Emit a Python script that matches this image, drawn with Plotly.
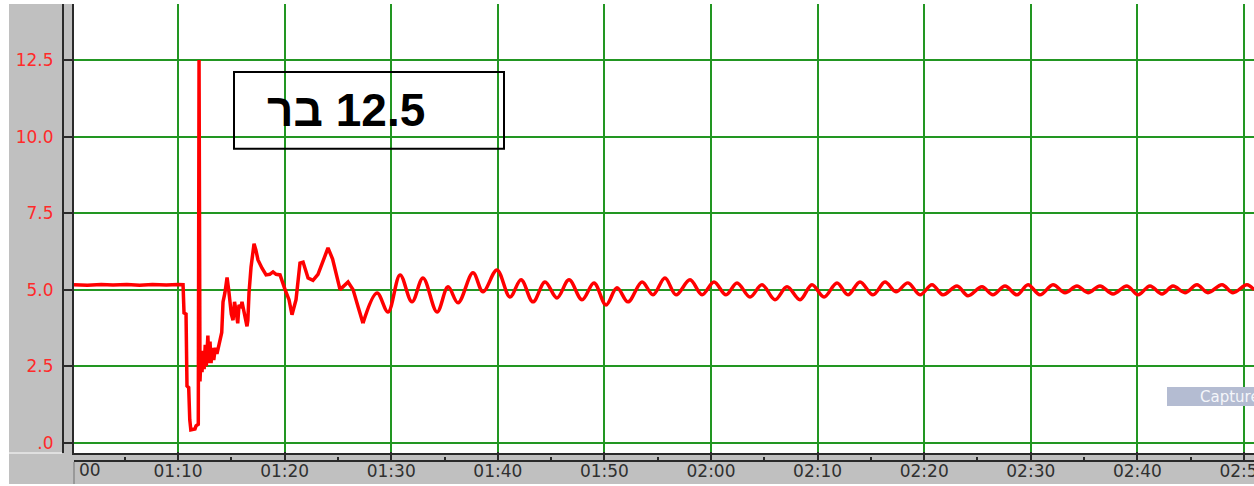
import plotly.graph_objects as go

# Pressure trace (bar) against elapsed time in seconds; axis labels read mm:ss
peak_pressure = 12.5

# Steady state, valve event, pressure spike and the first irregular swings
t_transient = [60.24, 61.5, 62.8, 63.9, 65.2, 66.4, 67.6, 68.9, 70.0, 70.47,
               70.56, 70.75, 70.84, 71.0, 71.1, 71.2, 71.59, 71.69, 71.9, 71.97,
               72.06, 72.16, 72.25, 72.35, 72.45, 72.55, 72.65, 72.8, 72.9, 73.0,
               73.1, 73.2, 73.35, 73.5, 73.65, 73.8, 73.94, 74.1, 74.22, 74.4,
               74.6, 74.75, 74.85, 75.0, 75.16, 75.3, 75.44, 75.6, 75.72, 75.9,
               76.0, 76.2, 76.47, 76.55, 76.66, 76.85, 77.0, 77.13, 77.3, 77.5,
               77.88, 78.26, 78.6, 78.91, 79.2, 79.57, 80.04, 80.41, 80.69, 81.07,
               81.44, 81.73, 82.2, 82.66, 83.13, 83.7, 84.07, 84.5, 85.2, 85.95,
               86.42, 86.89, 87.35]
p_transient = [5.16, 5.14, 5.17, 5.15, 5.17, 5.14, 5.17, 5.15, 5.17, 5.16,
               4.24, 4.2, 1.85, 1.8, 0.75, 0.42, 0.45, 0.55, 0.6, peak_pressure,
               2.0, 2.9, 2.3, 3.0, 2.4, 3.2, 2.5, 3.5, 2.6, 3.3,
               2.6, 3.1, 2.7, 3.1, 2.9, 3.2, 3.35, 3.6, 4.6, 4.9,
               5.4, 5.0, 4.7, 4.2, 4.0, 4.6, 4.3, 3.9, 4.5, 4.4,
               4.6, 4.2, 3.8, 4.0, 4.9, 5.74, 6.2, 6.5, 6.3, 5.97,
               5.7, 5.48, 5.5, 5.58, 5.5, 5.48, 5.0, 4.67, 4.18, 4.67,
               5.87, 5.9, 5.38, 5.3, 5.5, 6.0, 6.36, 6.0, 5.0, 5.25,
               5.0, 4.44, 3.9]

# Decaying oscillation: successive crests and troughs
t_osc = [87.35, 88.67, 89.7, 90.83, 91.95, 92.98, 94.3, 95.33, 96.27, 97.67,
         98.61, 99.92, 101.14, 102.18, 103.3, 104.43, 105.55, 106.68, 107.9, 109.02,
         110.15, 111.18, 112.21, 113.53, 114.56, 115.68, 116.72, 118.03, 119.16, 120.28,
         121.41, 122.44, 123.66, 124.78, 126.0, 127.13, 128.35, 129.47, 130.6, 131.82,
         132.85, 133.98, 135.2, 136.32, 137.35, 138.48, 139.61, 140.73, 141.76, 143.08,
         144.11, 145.42, 146.45, 147.58, 148.71, 149.74, 150.86, 152.08, 153.21, 154.33,
         155.37, 156.49, 157.71, 159.02, 160.06, 161.18, 162.31, 163.34, 164.47, 165.59,
         166.62, 167.94, 168.97, 170.28, 170.94]
p_osc = [3.9, 4.89, 4.27, 5.48, 4.6, 5.38, 4.27, 5.09, 4.57, 5.55,
         4.93, 5.64, 4.76, 5.32, 4.6, 5.25, 4.73, 5.32, 4.67, 5.22,
         4.5, 5.06, 4.6, 5.25, 4.83, 5.38, 4.83, 5.32, 4.83, 5.25,
         4.83, 5.22, 4.76, 5.16, 4.67, 5.09, 4.67, 5.16, 4.76, 5.22,
         4.83, 5.25, 4.83, 5.25, 4.93, 5.22, 4.83, 5.16, 4.83, 5.12,
         4.8, 5.09, 4.83, 5.12, 4.83, 5.16, 4.83, 5.16, 4.9, 5.12,
         4.9, 5.12, 4.86, 5.12, 4.83, 5.12, 4.86, 5.12, 4.9, 5.16,
         4.9, 5.16, 4.9, 5.16, 4.99]

x_tick_vals = [60, 70, 80, 90, 100, 110, 120, 130, 140, 150, 160, 170]
x_tick_labels = ["01:00", "01:10", "01:20", "01:30", "01:40", "01:50",
                 "02:00", "02:10", "02:20", "02:30", "02:40", "02:50"]
y_tick_vals = [0, 2.5, 5, 7.5, 10, 12.5]
y_tick_labels = [".0", "2.5", "5.0", "7.5", "10.0", "12.5"]

x_range = [60.24, 170.94]
y_range = [-0.337, 14.33]

# Figure geometry (pixels)
W, H = 1254, 486
ML, MR, MT, MB = 63, 0, 4, 25
PW, PH = W - ML - MR, H - MT - MB


def px(p):
    return (p - ML) / PW


def py(q):
    return (H - MB - q) / PH


RED = "#ff0000"
GRID = "rgb(34,150,34)"
DARK = "#2a2a2a"
PANEL = "#c0c0c0"

fig = go.Figure()
fig.add_trace(go.Scatter(x=t_transient, y=p_transient, mode="lines",
                         line=dict(color=RED, width=3.5), hoverinfo="skip"))
fig.add_trace(go.Scatter(x=t_osc, y=p_osc, mode="lines",
                         line=dict(color=RED, width=3.5, shape="spline", smoothing=1.0),
                         hoverinfo="skip"))
# carries the outer (labelled) axes
fig.add_trace(go.Scatter(x=[], y=[], xaxis="x2", yaxis="y2", hoverinfo="skip"))

tick_font = dict(family="DejaVu Sans", size=17, color="#303030")

fig.update_layout(
    width=W, height=H, autosize=False, template="none",
    margin=dict(l=ML, r=MR, t=MT, b=MB, pad=0),
    paper_bgcolor=PANEL, plot_bgcolor="white", showlegend=False,
    xaxis=dict(domain=[px(74), 1], range=x_range, tickmode="array", tickvals=x_tick_vals,
               showticklabels=False, ticks="", showgrid=True, gridcolor=GRID, gridwidth=2,
               zeroline=False, showline=True, linecolor=DARK, linewidth=2, anchor="y",
               automargin=False),
    yaxis=dict(domain=[py(453), 1], range=y_range, tickmode="array", tickvals=y_tick_vals,
               showticklabels=False, ticks="", showgrid=True, gridcolor=GRID, gridwidth=2,
               zeroline=False, showline=True, linecolor=DARK, linewidth=2, anchor="x",
               automargin=False),
    xaxis2=dict(overlaying="x", anchor="free", position=0, side="bottom", range=x_range,
                tickmode="array", tickvals=x_tick_vals, ticktext=x_tick_labels,
                ticks="inside", ticklen=8, tickwidth=1.5, tickcolor=DARK,
                minor=dict(ticks="inside", ticklen=3, tickwidth=1.5, tickcolor=DARK,
                           tickmode="linear", tick0=0, dtick=5, showgrid=False),
                showline=True, linecolor=DARK, linewidth=2, showgrid=False, zeroline=False,
                tickfont=tick_font, ticklabeloverflow="allow", ticklabelstandoff=-5,
                automargin=False),
    yaxis2=dict(overlaying="y", anchor="free", position=0, side="left", range=y_range,
                tickmode="array", tickvals=y_tick_vals, ticktext=y_tick_labels,
                ticks="inside", ticklen=9, tickwidth=1.5, tickcolor=DARK,
                showline=True, linecolor=DARK, linewidth=2, showgrid=False, zeroline=False,
                tickfont=dict(family="DejaVu Sans", size=17, color="#ff2a2a"),
                ticklabelstandoff=5, automargin=False),
)

shapes = [
    # white window edges
    dict(type="rect", xref="paper", yref="paper", x0=px(0), x1=px(9), y0=py(H), y1=py(0),
         fillcolor="white", line=dict(width=0), layer="above"),
    dict(type="rect", xref="paper", yref="paper", x0=px(0), x1=px(W), y0=py(MT), y1=py(0),
         fillcolor="white", line=dict(width=0), layer="above"),
    dict(type="rect", xref="paper", yref="paper", x0=px(0), x1=px(W), y0=py(H), y1=py(484),
         fillcolor="white", line=dict(width=0), layer="above"),
    dict(type="line", xref="paper", yref="paper", x0=px(9), x1=px(62), y0=py(453), y1=py(453),
         line=dict(color="white", width=1), layer="above"),
    # separator in the time-label strip
    dict(type="line", xref="paper", yref="paper", x0=px(74), x1=px(74), y0=py(462), y1=py(484),
         line=dict(color="#8c8c8c", width=1.5), layer="above"),
    # framed note beside the spike
    dict(type="rect", xref="x", yref="y", x0=75.25, x1=100.58, y0=9.6, y1=12.11,
         line=dict(color="black", width=2), fillcolor="rgba(0,0,0,0)", layer="above"),
    # capture button
    dict(type="rect", xref="paper", yref="paper", x0=px(1167), x1=px(1260), y0=py(406), y1=py(387),
         fillcolor="#b4bcd2", line=dict(width=0), layer="above"),
]
fig.update_layout(shapes=shapes)

# Hebrew note, laid out right-to-left
fig.add_annotation(x=85.76, y=10.87, xref="x", yref="y", showarrow=False,
                   text="\u202b" + f"{peak_pressure} בר" + "\u202c",
                   font=dict(family="Liberation Sans, Arial", size=46, color="black", weight=700))
# first time label, cut by the plot's left edge
fig.add_annotation(x=px(77), y=py(470), xref="paper", yref="paper", showarrow=False,
                   text=x_tick_labels[0][-2:], xanchor="left", yanchor="middle",
                   font=tick_font)
fig.add_annotation(x=px(1198), y=py(396.5), xref="paper", yref="paper", showarrow=False,
                   text="Capture", xanchor="left", yanchor="middle",
                   font=dict(family="DejaVu Sans", size=15, color="#f4f6fa"))

fig.write_html("out.html")
